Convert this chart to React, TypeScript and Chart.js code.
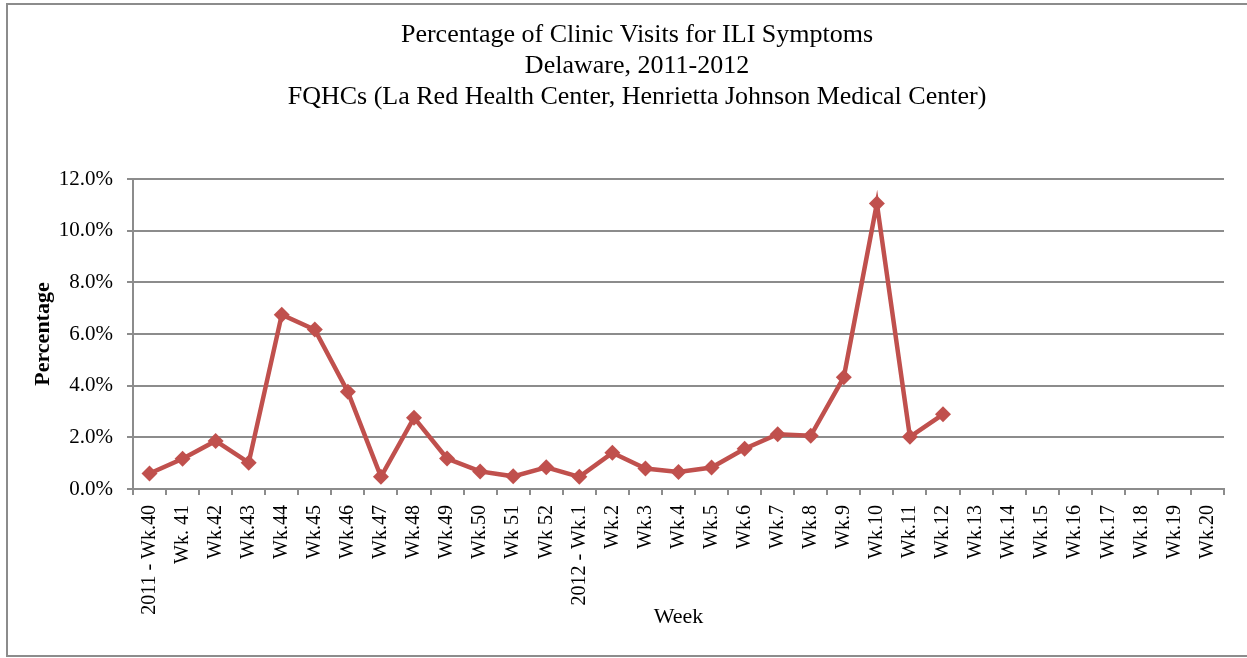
import React, { useEffect, useRef } from "react";
import { Chart, registerables } from "chart.js";

Chart.register(...registerables);

const weekLabels: string[] = [
  "2011 - Wk.40", "Wk. 41", "Wk.42", "Wk.43", "Wk.44", "Wk.45", "Wk.46", "Wk.47",
  "Wk.48", "Wk.49", "Wk.50", "Wk 51", "Wk 52", "2012 - Wk.1", "Wk.2", "Wk.3",
  "Wk.4", "Wk.5", "Wk.6", "Wk.7", "Wk.8", "Wk.9", "Wk.10", "Wk.11", "Wk.12",
  "Wk.13", "Wk.14", "Wk.15", "Wk.16", "Wk.17", "Wk.18", "Wk.19", "Wk.20",
];

const iliPercent: (number | null)[] = [
  0.6, 1.17, 1.86, 1.02, 6.75, 6.17, 3.76, 0.47, 2.76, 1.18, 0.68, 0.49, 0.84,
  0.47, 1.4, 0.79, 0.66, 0.83, 1.56, 2.12, 2.06, 4.33, 11.05, 2.02, 2.89,
  null, null, null, null, null, null, null, null,
];

const titleLines: string[] = [
  "Percentage of Clinic Visits for ILI Symptoms",
  "Delaware, 2011-2012",
  "FQHCs (La Red Health Center, Henrietta Johnson Medical Center)",
];

const yTicks = { min: 0, max: 12, step: 2 };

const FONT = "'Liberation Serif', 'Times New Roman', serif";
const GRID = "#8c8c8c";
const RED = "#C0504D";

export default function App() {
  const ref = useRef<HTMLCanvasElement | null>(null);

  useEffect(() => {
    if (!ref.current) return;
    const chart = new Chart(ref.current, {
      type: "line",
      data: {
        labels: weekLabels,
        datasets: [
          {
            label: "Percentage",
            data: iliPercent,
            borderColor: RED,
            backgroundColor: RED,
            borderWidth: 4.5,
            pointStyle: "rectRot",
            pointRadius: 8,
            pointBorderWidth: 0,
            pointBackgroundColor: RED,
            tension: 0,
            spanGaps: false,
          },
        ],
      },
      options: {
        animation: false,
        responsive: true,
        maintainAspectRatio: false,
        layout: { padding: { left: 42, right: 23, top: 0, bottom: 22 } },
        plugins: {
          legend: { display: false },
          tooltip: { enabled: false },
          title: {
            display: true,
            text: titleLines,
            color: "#000",
            font: { family: FONT, size: 26, weight: "normal", lineHeight: "31px" },
            padding: { top: 15, bottom: 66 },
          },
        },
        scales: {
          x: {
            type: "category",
            offset: true,
            grid: {
              offset: true,
              drawOnChartArea: false,
              drawTicks: true,
              tickLength: 6,
              color: GRID,
              lineWidth: 2,
            },
            border: { display: true, color: GRID, width: 2 },
            ticks: {
              autoSkip: false,
              maxRotation: 90,
              minRotation: 90,
              color: "#000",
              padding: 10,
              font: { family: FONT, size: 20 },
            },
            title: {
              display: true,
              text: "Week",
              color: "#000",
              font: { family: FONT, size: 22 },
              padding: { top: 0, bottom: 3 },
            },
            afterFit: (scale: any) => {
              scale.height = 144;
            },
          },
          y: {
            min: yTicks.min,
            max: yTicks.max,
            grid: {
              color: GRID,
              lineWidth: 2,
              tickLength: 6,
            },
            border: { display: true, color: GRID, width: 2 },
            ticks: {
              stepSize: yTicks.step,
              color: "#000",
              padding: 14,
              font: { family: FONT, size: 21 },
              callback: (v: any) => Number(v).toFixed(1) + "%",
            },
            title: {
              display: true,
              text: "Percentage",
              color: "#000",
              font: { family: FONT, size: 22, weight: "bold" },
              padding: { top: -20, bottom: 0 },
            },
            afterFit: (scale: any) => {
              scale.width = 83;
            },
          },
        },
      },
    });
    return () => chart.destroy();
  }, []);

  return (
    <div
      style={{
        position: "absolute",
        left: 6,
        top: 3,
        width: 1239,
        height: 650,
        border: "2px solid #8c8c8c",
        background: "#fff",
      }}
    >
      <canvas ref={ref} />
    </div>
  );
}
